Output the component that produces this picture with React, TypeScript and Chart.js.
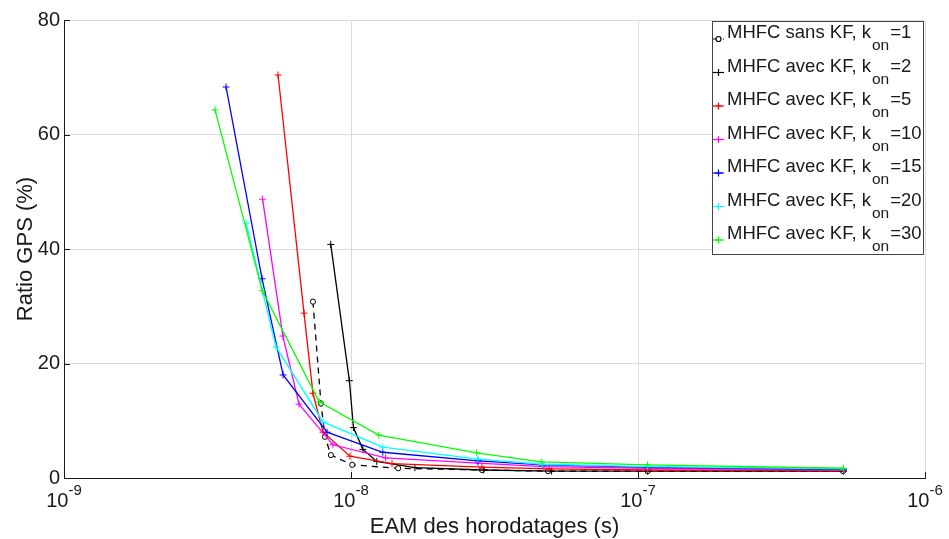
import React, { useEffect, useRef } from "react";
import { Chart, registerables } from "chart.js";

Chart.register(...registerables);

// Data (EAM in seconds, Ratio GPS in %)
const xK1 = [7.37e-9, 7.86e-9, 8.12e-9, 8.51e-9, 1.01e-8, 1.46e-8, 2.86e-8, 4.86e-8, 1.08e-7, 5.18e-7];
const yK1 = [30.8, 13.0, 7.2, 4.0, 2.3, 1.7, 1.4, 1.2, 1.2, 1.2];

const xK2 = [8.5e-9, 9.87e-9, 1.02e-8, 1.1e-8, 1.23e-8, 1.67e-8, 2.9e-8, 5.0e-8, 1.08e-7, 5.2e-7];
const yK2 = [40.8, 17.0, 8.8, 5.0, 2.9, 1.8, 1.4, 1.2, 1.2, 1.2];

const xK5 = [5.57e-9, 6.86e-9, 7.37e-9, 7.99e-9, 9.92e-9, 1.39e-8, 2.86e-8, 4.9e-8, 1.08e-7, 5.2e-7];
const yK5 = [70.4, 28.8, 14.8, 8.0, 3.8, 2.5, 1.9, 1.6, 1.4, 1.3];

const xK10 = [4.92e-9, 5.79e-9, 6.59e-9, 8.65e-9, 1.32e-8, 2.77e-8, 4.7e-8, 1.08e-7, 5.2e-7];
const yK10 = [48.7, 24.8, 12.9, 5.8, 3.5, 2.6, 2.0, 1.7, 1.4];

const xK15 = [3.67e-9, 4.9e-9, 5.8e-9, 8.25e-9, 1.29e-8, 2.77e-8, 4.65e-8, 1.08e-7, 5.2e-7];
const yK15 = [68.3, 34.8, 18.0, 8.0, 4.5, 3.0, 2.3, 1.9, 1.5];

const xK20 = [4.31e-9, 5.48e-9, 7.99e-9, 1.29e-8, 2.77e-8, 4.65e-8, 1.08e-7, 5.2e-7];
const yK20 = [44.5, 22.9, 9.8, 5.4, 3.3, 2.4, 2.0, 1.6];

const xK30 = [3.36e-9, 4.91e-9, 7.75e-9, 1.25e-8, 2.74e-8, 4.6e-8, 1.08e-7, 5.2e-7];
const yK30 = [64.3, 32.7, 13.3, 7.5, 4.4, 2.8, 2.3, 1.7];

const seriesPrefixes = [
  "MHFC sans KF, k",
  "MHFC avec KF, k",
  "MHFC avec KF, k",
  "MHFC avec KF, k",
  "MHFC avec KF, k",
  "MHFC avec KF, k",
  "MHFC avec KF, k",
];
const seriesK = ["1", "2", "5", "10", "15", "20", "30"];
const seriesColors = ["#000000", "#000000", "#ff0000", "#ff00ff", "#0000ff", "#00ffff", "#00ff00"];

const xTickValues = [1e-9, 1e-8, 1e-7, 1e-6];
const xTickExps = ["-9", "-8", "-7", "-6"];
const yTickValues = [0, 20, 40, 60, 80];

const xTitle = "EAM des horodatages (s)";
const yTitle = "Ratio GPS (%)";

const FONT = '"Liberation Sans", Arial, Helvetica, sans-serif';
const TXT = "#1a1a1a";

function toPts(xs: number[], ys: number[]) {
  return xs.map((x, i) => ({ x, y: ys[i] }));
}

const allX = [xK1, xK2, xK5, xK10, xK15, xK20, xK30];
const allY = [yK1, yK2, yK5, yK10, yK15, yK20, yK30];

const overlayPlugin = {
  id: "overlay",
  afterDraw(chart: any) {
    const ctx = chart.ctx as CanvasRenderingContext2D;
    const xs = chart.scales.x;
    const ys = chart.scales.y;
    const area = chart.chartArea;
    ctx.save();

    // inward tick marks
    ctx.strokeStyle = "#1a1a1a";
    ctx.lineWidth = 1;
    ctx.beginPath();
    yTickValues.forEach((v) => {
      const py = Math.round(ys.getPixelForValue(v)) + 0.5;
      ctx.moveTo(area.left, py);
      ctx.lineTo(area.left + 6, py);
    });
    xTickValues.forEach((v) => {
      const px = Math.round(xs.getPixelForValue(v)) + 0.5;
      ctx.moveTo(px, area.bottom);
      ctx.lineTo(px, area.bottom - 6);
    });
    ctx.stroke();

    // y tick labels
    ctx.fillStyle = TXT;
    ctx.font = `20px ${FONT}`;
    ctx.textAlign = "right";
    ctx.textBaseline = "middle";
    yTickValues.forEach((v) => {
      const py = ys.getPixelForValue(v);
      ctx.fillText(String(v), area.left - 4, py);
    });

    // x tick labels 10^exp
    ctx.textBaseline = "alphabetic";
    xTickValues.forEach((v, i) => {
      const px = xs.getPixelForValue(v);
      ctx.font = `20px ${FONT}`;
      const wb = ctx.measureText("10").width;
      ctx.font = `15px ${FONT}`;
      const we = ctx.measureText(xTickExps[i]).width;
      const start = px - (wb + we) / 2;
      ctx.textAlign = "left";
      ctx.font = `20px ${FONT}`;
      ctx.fillText("10", start, area.bottom + 29);
      ctx.font = `15px ${FONT}`;
      ctx.fillText(xTickExps[i], start + wb, area.bottom + 17);
    });

    // axis titles
    ctx.font = `22px ${FONT}`;
    ctx.textAlign = "center";
    ctx.fillText(xTitle, (area.left + area.right) / 2, area.bottom + 55);
    ctx.save();
    ctx.translate(32, (area.top + area.bottom) / 2);
    ctx.rotate(-Math.PI / 2);
    ctx.fillText(yTitle, 0, 0);
    ctx.restore();

    // legend
    const lx = 712, ly = 21, lw = 211, lh = 233;
    ctx.fillStyle = "#ffffff";
    ctx.fillRect(lx, ly, lw, lh);
    ctx.strokeStyle = "#444444";
    ctx.lineWidth = 1;
    ctx.strokeRect(lx + 0.5, ly + 0.5, lw, lh);
    seriesPrefixes.forEach((pre, i) => {
      const base = 38 + i * 33.5;
      const my = base + 1;
      ctx.strokeStyle = seriesColors[i];
      ctx.lineWidth = 1.2;
      ctx.setLineDash(i === 0 ? [3, 2] : []);
      ctx.beginPath();
      ctx.moveTo(713, my);
      ctx.lineTo(724, my);
      ctx.stroke();
      ctx.setLineDash([]);
      ctx.beginPath();
      if (i === 0) {
        ctx.fillStyle = "#fff";
        ctx.arc(718.5, my, 2.5, 0, Math.PI * 2);
        ctx.fill();
        ctx.stroke();
      } else {
        ctx.moveTo(715, my);
        ctx.lineTo(722, my);
        ctx.moveTo(718.5, my - 3.5);
        ctx.lineTo(718.5, my + 3.5);
        ctx.stroke();
      }
      ctx.fillStyle = TXT;
      ctx.textAlign = "left";
      ctx.font = `18.5px ${FONT}`;
      ctx.fillText(pre, 727, base);
      const w1 = ctx.measureText(pre).width;
      ctx.font = `15.5px ${FONT}`;
      ctx.fillText("on", 727 + w1 + 1, base + 12);
      const w2 = ctx.measureText("on").width;
      ctx.font = `18.5px ${FONT}`;
      ctx.fillText("=" + seriesK[i], 727 + w1 + w2 + 2, base);
    });

    ctx.restore();
  },
};

export default function App() {
  const ref = useRef<HTMLCanvasElement | null>(null);
  useEffect(() => {
    if (!ref.current) return;
    const datasets = allX.map((xs, i) => ({
      label: seriesPrefixes[i] + "on=" + seriesK[i],
      data: toPts(xs, allY[i]),
      borderColor: seriesColors[i],
      backgroundColor: i === 0 ? "#ffffff" : seriesColors[i],
      borderWidth: 1.3,
      borderDash: i === 0 ? [6, 5] : [],
      pointStyle: i === 0 ? "circle" : "cross",
      pointRadius: i === 0 ? 2.6 : 3.5,
      pointBorderWidth: 1,
      pointBorderColor: seriesColors[i],
      pointBackgroundColor: i === 0 ? "#ffffff" : seriesColors[i],
      tension: 0,
      fill: false,
      order: -i,
    }));
    const chart = new Chart(ref.current, {
      type: "line",
      data: { datasets },
      options: {
        animation: false,
        responsive: false,
        devicePixelRatio: 1,
        layout: { padding: { left: 64, right: 24, top: 20, bottom: 61 } },
        plugins: { legend: { display: false }, tooltip: { enabled: false } },
        scales: {
          x: {
            type: "logarithmic",
            min: 1e-9,
            max: 1e-6,
            afterBuildTicks: (s: any) => {
              s.ticks = xTickValues.map((v) => ({ value: v }));
            },
            ticks: { display: false },
            grid: { color: "#dcdcdc", drawTicks: false, lineWidth: 1 },
            border: { display: true, color: "#1a1a1a", width: 1 },
          },
          y: {
            type: "linear",
            min: 0,
            max: 80,
            afterBuildTicks: (s: any) => {
              s.ticks = yTickValues.map((v) => ({ value: v }));
            },
            ticks: { display: false },
            grid: { color: "#dcdcdc", drawTicks: false, lineWidth: 1 },
            border: { display: true, color: "#1a1a1a", width: 1 },
          },
        },
      },
      plugins: [overlayPlugin],
    } as any);
    return () => chart.destroy();
  }, []);
  return (
    <div style={{ position: "fixed", left: 0, top: 0, width: 949, height: 539, background: "#fff" }}>
      <canvas ref={ref} width={949} height={539} style={{ width: 949, height: 539, display: "block" }} />
    </div>
  );
}
